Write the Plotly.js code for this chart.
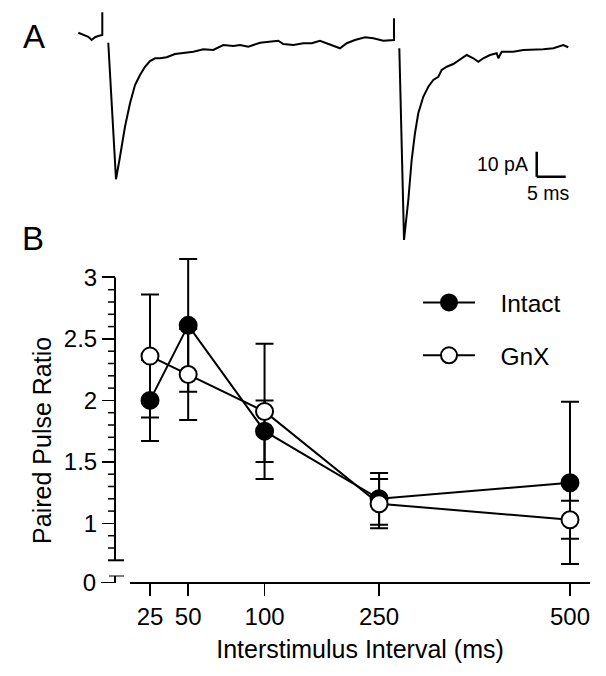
<!DOCTYPE html>
<html><head><meta charset="utf-8">
<script src="https://cdn.plot.ly/plotly-3.0.1.min.js"></script>
<style>html,body{margin:0;padding:0;background:#fff}#chart{width:606px;height:676px}</style>
</head><body><div id="chart"></div>
<script>
// ---------- Panel B data ----------
const intervals = [25, 50, 100, 250, 500];
const intervalLabels = ['25', '50', '100', '250', '500'];
const intactPPR = [2.00, 2.61, 1.75, 1.20, 1.33];
const intactErr = [0.33, 0.54, 0.25, 0.21, 0.66];
const gnxPPR = [2.36, 2.21, 1.91, 1.16, 1.03];
const gnxErr = [0.50, 0.37, 0.55, 0.20, 0.155];
const yTickVals = [1, 1.5, 2, 2.5, 3];
const yTickText = ['1', '1.5', '2', '2.5', '3'];
const seriesNames = ['Intact', 'GnX'];

// ---------- Panel A data (trace, ms / pA) ----------
const traceTime = [
  -4.14, -3.28, -2.41, -1.83, -1.26, -0.69, -0.10, 0, 0, null,
  1.03, 2.36, 3.05, 3.91, 4.78, 5.64, 6.50, 7.36, 8.22, 9.09,
  9.95, 11.10, 12.53, 13.97, 15.69, 17.41, 19.14, 20.86, 22.59, 23.74,
  25.17, 27.19, 28.91, 30.34, 31.21, 32.93, 34.66, 36.10, 37.53, 38.97,
  40.41, 40.98, 42.14, 43.57, 45.29, 46.72, 48.45, 49.90, 50.29, 50.29, null,
  51.21, 52.02, 52.76, 53.34, 53.91, 54.48, 55.34, 56.21, 57.07, 57.93,
  58.52, 59.38, 60.52, 61.67, 62.83, 63.97, 64.83, 65.69, 66.84, 68.00,
  68.28, 68.86, 70.86, 72.59, 74.31, 76.03, 77.76, 79.48, 80.34
];
const traceCurrent = [
  0.9, 0, -0.7, -2.0, -0.9, -0.4, 0, 0, 9.1, null,
  -3.1, -57.7, -48.7, -36.7, -27.3, -20.0, -16.0, -12.7, -10.4, -9.3,
  -9.3, -8.9, -7.6, -7.1, -6.7, -5.7, -6.0, -4.0, -4.4, -4.0,
  -4.7, -3.1, -2.7, -2.3, -3.6, -4.0, -3.3, -3.3, -2.3, -3.6,
  -4.7, -5.3, -3.3, -2.0, -0.9, -1.3, -2.3, -2.0, -2.0, 6.7, null,
  -5.3, -82.0, -66.0, -50.0, -39.3, -31.3, -24.7, -20.7, -18.0, -16.7,
  -14.0, -12.7, -11.6, -9.7, -8.0, -9.3, -10.7, -9.3, -8.0, -7.3,
  -9.3, -6.7, -6.7, -6.0, -6.0, -5.7, -5.3, -4.0, -4.9
];
const scaleBarPA = 10;
const scaleBarMS = 5;
const scaleBarCorner = [74.9, -56.7]; // ms, pA

// ---------- helpers ----------
const W = 606, H = 676;
const px = v => v / W;          // pixel x -> paper
const py = v => 1 - v / H;      // pixel y -> paper
// broken interval scale of the original figure: 25-100 ms drawn at double spacing
const isiScale = ms => ms <= 100 ? 2 * ms : ms + 100;
const FONT = 'Liberation Sans, Arial, Helvetica, sans-serif';

const minorVals = [];
for (let k = 8; k < 30; k++) { if (k % 5 !== 0) minorVals.push(k / 10); }

const xPos = intervals.map(isiScale);
const legendPad = '\u00a0\u00a0\u00a0';

const traces = [
  {
    x: xPos, y: intactPPR, name: legendPad + seriesNames[0], type: 'scatter', mode: 'lines+markers',
    xaxis: 'x', yaxis: 'y', cliponaxis: false, legendgroup: 'a',
    line: {color: '#000', width: 2},
    marker: {symbol: 'circle', size: 17, color: '#000', line: {color: '#000', width: 2}},
    error_y: {type: 'data', array: intactErr, visible: true, color: '#000', thickness: 2, width: 9}
  },
  {
    x: xPos, y: gnxPPR, name: legendPad + seriesNames[1], type: 'scatter', mode: 'lines+markers',
    xaxis: 'x', yaxis: 'y', cliponaxis: false, legendgroup: 'b',
    line: {color: '#000', width: 2},
    marker: {symbol: 'circle', size: 17, color: '#fff', line: {color: '#000', width: 2}},
    error_y: {type: 'data', array: gnxErr, visible: true, color: '#000', thickness: 2, width: 9}
  },
  { x: [], y: [], xaxis: 'x', yaxis: 'y2', showlegend: false, hoverinfo: 'skip', type: 'scatter', mode: 'markers' },
  {
    x: traceTime, y: traceCurrent, xaxis: 'x2', yaxis: 'y3', type: 'scatter', mode: 'lines',
    showlegend: false, connectgaps: false, line: {color: '#000', width: 2}
  }
];

// axis geometry (pixel measurements of the figure frame)
const xPxPerUnit = (570 - 150) / (isiScale(500) - isiScale(25));
const xRange = [isiScale(25) + (130 - 150) / xPxPerUnit, isiScale(25) + (590 - 150) / xPxPerUnit];
const yPxPerUnit = 123;
const yPx1 = 523.4; // pixel of value 1
const yRange = [0.15, 3.2];
const yDom = [py(yPx1 + (1 - yRange[0]) * yPxPerUnit), py(yPx1 - (yRange[1] - 1) * yPxPerUnit)];

const tA = {family: FONT, size: 24, color: '#000'};

const axisShapes = [
  // upper y-axis segment (broken axis)
  {type: 'line', xref: 'paper', yref: 'y', x0: px(115), x1: px(115), y0: 0.7, y1: 3, line: {color: '#000', width: 2}},
  {type: 'line', xref: 'paper', yref: 'y', x0: px(108), x1: px(124), y0: 0.7, y1: 0.7, line: {color: '#000', width: 2}},
  {type: 'line', xref: 'paper', yref: 'y2', x0: px(109), x1: px(124), y0: 1, y1: 1, line: {color: '#000', width: 2}},
  // scale bar
  {type: 'line', xref: 'x2', yref: 'y3', x0: scaleBarCorner[0], x1: scaleBarCorner[0],
    y0: scaleBarCorner[1], y1: scaleBarCorner[1] + scaleBarPA, line: {color: '#000', width: 2.5}},
  {type: 'line', xref: 'x2', yref: 'y3', x0: scaleBarCorner[0], x1: scaleBarCorner[0] + scaleBarMS,
    y0: scaleBarCorner[1], y1: scaleBarCorner[1], line: {color: '#000', width: 2.5}}
];
// minor ticks of the y axis
minorVals.forEach(v => axisShapes.push(
  {type: 'line', xref: 'paper', yref: 'y', x0: px(108), x1: px(115), y0: v, y1: v, line: {color: '#000', width: 1.5}}
));

const layout = {
  width: W, height: H,
  margin: {l: 0, r: 0, t: 0, b: 0},
  paper_bgcolor: '#fff', plot_bgcolor: 'rgba(0,0,0,0)',
  font: {family: FONT, color: '#000', size: 24},
  showlegend: true,
  legend: {
    x: px(418), y: py(280), xanchor: 'left', yanchor: 'top',
    font: {family: FONT, size: 24.5, color: '#000'},
    bgcolor: 'rgba(0,0,0,0)', borderwidth: 0, itemwidth: 52,
    traceorder: 'grouped', tracegroupgap: 18
  },
  xaxis: {
    domain: [px(130), px(590)], range: xRange, anchor: 'free', position: py(583.3),
    showline: true, linewidth: 2, linecolor: '#000', showgrid: false, zeroline: false,
    tickmode: 'array', tickvals: xPos, ticktext: intervalLabels,
    ticks: 'outside', ticklen: 12, tickwidth: 1.5, tickcolor: '#000', tickfont: tA,
    title: {text: 'Interstimulus Interval (ms)', font: {family: FONT, size: 25, color: '#000'}, standoff: 10}
  },
  yaxis: {
    domain: yDom, range: yRange, anchor: 'free', position: px(115),
    showline: false, showgrid: false, zeroline: false,
    tickmode: 'array', tickvals: yTickVals, ticktext: yTickText,
    ticks: 'outside', ticklen: 13, tickwidth: 1.8, tickcolor: '#000', tickfont: tA,
    title: {text: 'Paired Pulse Ratio', font: {family: FONT, size: 25, color: '#000'}, standoff: 4}
  },
  yaxis2: {
    domain: [py(582.5), py(575.5)], range: [0, 1], anchor: 'free', position: px(115),
    showline: true, linewidth: 2, linecolor: '#000', showgrid: false, zeroline: false,
    tickmode: 'array', tickvals: [0], ticktext: ['0'],
    ticks: 'outside', ticklen: 13, tickwidth: 1.8, tickcolor: '#000', tickfont: tA
  },
  xaxis2: {
    domain: [px(70), px(580)], range: [(70 - 102.3) / 5.8, (580 - 102.3) / 5.8],
    anchor: 'y3', visible: false
  },
  yaxis3: {
    domain: [py(250), py(5)], range: [(35 - 250) / 2.5, (35 - 5) / 2.5],
    anchor: 'x2', visible: false
  },
  shapes: axisShapes,
  annotations: [
    {text: 'A', xref: 'paper', yref: 'paper', x: px(34), y: py(36), xanchor: 'center', yanchor: 'middle',
      showarrow: false, font: {family: FONT, size: 33, color: '#000'}},
    {text: 'B', xref: 'paper', yref: 'paper', x: px(33), y: py(239), xanchor: 'center', yanchor: 'middle',
      showarrow: false, font: {family: FONT, size: 33, color: '#000'}},
    {text: scaleBarPA + ' pA', xref: 'x2', yref: 'y3', x: scaleBarCorner[0] - 1.2, y: scaleBarCorner[1] + scaleBarPA / 2,
      xanchor: 'right', yanchor: 'middle', showarrow: false, font: {family: FONT, size: 19.5, color: '#000'}},
    {text: scaleBarMS + ' ms', xref: 'x2', yref: 'y3', x: scaleBarCorner[0] + scaleBarMS / 2 - 0.5, y: scaleBarCorner[1] - 6.4,
      xanchor: 'center', yanchor: 'middle', showarrow: false, font: {family: FONT, size: 19.5, color: '#000'}}
  ]
};

Plotly.newPlot('chart', traces, layout, {staticPlot: true, displayModeBar: false});
</script>
</body></html>
